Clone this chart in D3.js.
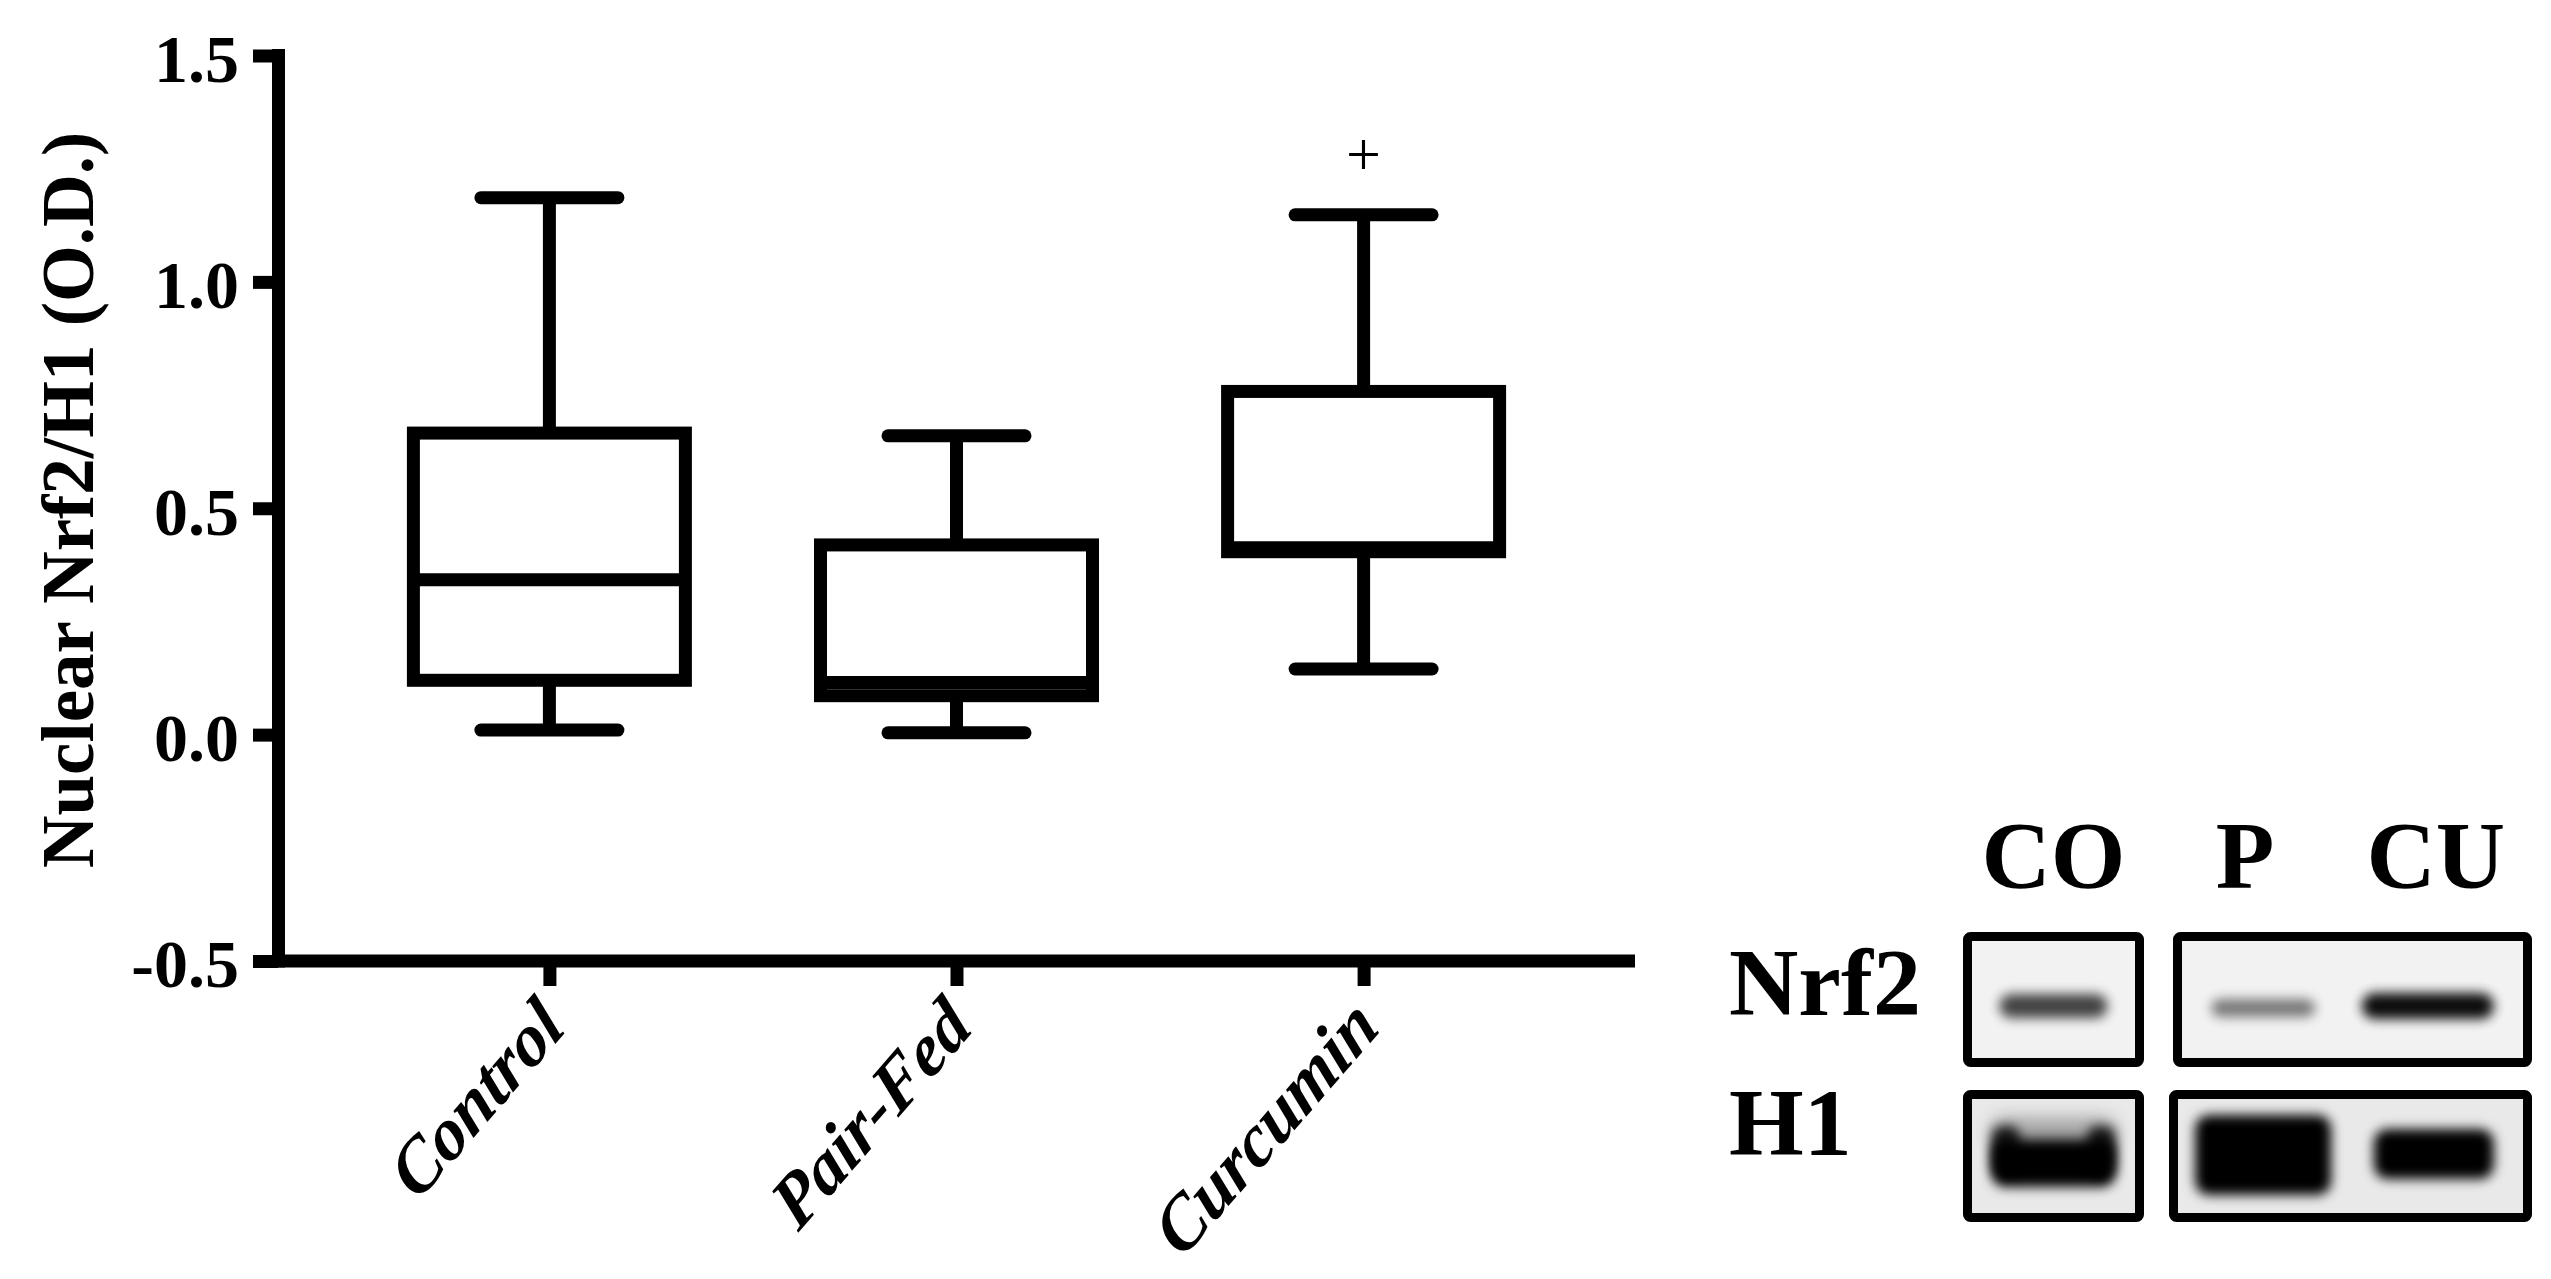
<!DOCTYPE html>
<html><head><meta charset="utf-8">
<script src="https://cdn.jsdelivr.net/npm/d3@7"></script>
<style>html,body{margin:0;padding:0;background:#fff;} svg{display:block;}</style>
</head><body>
<svg id="chart" width="2551" height="1279"></svg>
<script>
// ---------- data ----------
const categories  = ["Control", "Pair-Fed", "Curcumin"];
const whiskerLow  = [0.010, 0.004, 0.145];
const q1          = [0.120, 0.086, 0.404];
const median      = [0.342, 0.115, 0.413];
const q3          = [0.666, 0.419, 0.758];
const whiskerHigh = [1.186, 0.660, 1.148];
const significance = ["", "", "+"];
const yTicks = [-0.5, 0.0, 0.5, 1.0, 1.5];
const yLabel = "Nuclear Nrf2/H1 (O.D.)";

const lanes = ["CO", "P", "CU"];
const blotRows = ["Nrf2", "H1"];
const nrf2Density = [0.72, 0.50, 0.95];
const h1Density   = [1.00, 1.00, 1.00];

// ---------- setup ----------
const svg = d3.select("#chart");
const FONT = "'Liberation Serif','Times New Roman',serif";
const SW = 13;

const x = d3.scalePoint().domain(categories).range([278, 1635]).padding(2/3);
const y = d3.scaleLinear().domain([-0.5, 1.5]).range([961, 55.5]);

// ---------- axes ----------
const yAxis = d3.axisLeft(y).tickValues(yTicks)
  .tickFormat(d => d3.format(".1f")(d).replace("\u2212", "-"))
  .tickSize(25).tickSizeOuter(0).tickPadding(14);
const gy = svg.append("g").attr("transform", "translate(278,0)").call(yAxis)
  .attr("font-family", FONT).attr("font-size", 68).attr("font-weight", "bold");
gy.select(".domain").remove();
gy.selectAll(".tick line").attr("stroke", "#000").attr("stroke-width", SW);
gy.selectAll(".tick text").attr("fill", "#000").attr("dy", "0.38em");

const xAxis = d3.axisBottom(x).tickSize(25).tickSizeOuter(0).tickFormat("");
const gx = svg.append("g").attr("transform", `translate(0,${y(-0.5)})`).call(xAxis);
gx.select(".domain").remove();
gx.selectAll(".tick line").attr("stroke", "#000").attr("stroke-width", SW);

// axis lines
svg.append("line")
  .attr("x1", x.range()[0]).attr("x2", x.range()[1])
  .attr("y1", y(-0.5)).attr("y2", y(-0.5))
  .attr("stroke", "#000").attr("stroke-width", SW);
svg.append("line")
  .attr("x1", x.range()[0] + 0.5).attr("x2", x.range()[0] + 0.5)
  .attr("y1", y.range()[0]).attr("y2", y.range()[1])
  .attr("stroke", "#000").attr("stroke-width", SW).attr("stroke-linecap", "square");

// y label
svg.append("text")
  .attr("transform", "translate(93,500) rotate(-90)")
  .attr("text-anchor", "middle")
  .attr("font-family", FONT).attr("font-weight", "bold").attr("font-size", 73)
  .text(yLabel);

// category labels (slightly stretched vertically, as in the original figure)
svg.append("g").selectAll("text").data(categories).join("text")
  .attr("transform", d => `translate(${x(d) + 18},1030) scale(1,1.15) rotate(-45)`)
  .attr("text-anchor", "end")
  .attr("font-family", FONT).attr("font-weight", "bold").attr("font-style", "italic")
  .attr("font-size", 67)
  .text(d => d);

// ---------- box plots ----------
const boxW = 272, capW = 137;
const stats = categories.map((c, i) => ({
  c, lo: whiskerLow[i], q1: q1[i], med: median[i], q3: q3[i], hi: whiskerHigh[i], sig: significance[i]
}));
const gb = svg.append("g").attr("stroke", "#000").attr("stroke-width", SW).attr("fill", "none");
stats.forEach(d => {
  const cx = x(d.c);
  gb.append("line").attr("x1", cx).attr("x2", cx).attr("y1", y(d.hi)).attr("y2", y(d.q3));
  gb.append("line").attr("x1", cx).attr("x2", cx).attr("y1", y(d.q1)).attr("y2", y(d.lo));
  [d.hi, d.lo].forEach(v => {
    gb.append("line").attr("x1", cx - capW / 2).attr("x2", cx + capW / 2)
      .attr("y1", y(v)).attr("y2", y(v)).attr("stroke-linecap", "round");
  });
  gb.append("rect").attr("x", cx - boxW / 2).attr("width", boxW)
    .attr("y", y(d.q3)).attr("height", y(d.q1) - y(d.q3)).attr("fill", "#fff");
  gb.append("line").attr("x1", cx - boxW / 2).attr("x2", cx + boxW / 2)
    .attr("y1", y(d.med)).attr("y2", y(d.med));
  if (d.sig) {
    svg.append("text").attr("x", cx).attr("y", y(d.hi) - 40)
      .attr("text-anchor", "middle").attr("font-family", FONT).attr("font-size", 62)
      .text(d.sig);
  }
});

// ---------- western blot inset ----------
const defs = svg.append("defs");
defs.append("filter").attr("id", "blur").attr("x", "-50%").attr("y", "-100%").attr("width", "200%").attr("height", "300%")
  .append("feGaussianBlur").attr("stdDeviation", 6);
defs.append("filter").attr("id", "blur2").attr("x", "-50%").attr("y", "-100%").attr("width", "200%").attr("height", "300%")
  .append("feGaussianBlur").attr("stdDeviation", 9);

const col1 = [1967.5, 2139.5];
const col2 = [2177.5, 2527.5];
const rowY = { "Nrf2": [936.5, 1062.5], "H1": [1094.5, 1217.5] };
const laneX = d3.scaleBand().domain(["P", "CU"]).range(col2).paddingInner(0.1).paddingOuter(0.1);
const laneCenter = l => l === "CO" ? (col1[0] + col1[1]) / 2 : laneX(l) + laneX.bandwidth() / 2;
const labelShift = { CO: 0, P: -24, CU: 0 };

const gBlot = svg.append("g");
// backgrounds
blotRows.forEach(r => {
  const [y0, y1] = rowY[r];
  const bg = r === "Nrf2" ? "#f2f2f2" : "#e9e9e9";
  const c2 = r === "H1" ? [col2[0] - 4, col2[1]] : col2;
  [col1, c2].forEach(c => {
    gBlot.append("rect").attr("x", c[0]).attr("y", y0).attr("width", c[1] - c[0]).attr("height", y1 - y0)
      .attr("rx", 3).attr("fill", bg);
  });
});
// Nrf2 bands
const nrf2Shape = { CO: [108, 24, 0], P: [104, 18, 2], CU: [132, 26, 0] };
lanes.forEach((l, i) => {
  const [w, h, dy] = nrf2Shape[l];
  const cx = laneCenter(l) - (l === "CU" ? 8 : 0) - (l === "P" ? 6 : 0);
  gBlot.append("rect").attr("x", cx - w / 2).attr("y", 1006 - h / 2 + dy).attr("width", w).attr("height", h)
    .attr("rx", h / 2).attr("fill", "#000").attr("opacity", nrf2Density[i]).attr("filter", "url(#blur)");
});
// H1 bands
const h1Shape = { CO: [124, 48, 1163], P: [136, 80, 1155], CU: [120, 50, 1154] };
lanes.forEach((l, i) => {
  const [w, h, cy] = h1Shape[l];
  const cx = laneCenter(l) - (l === "CU" ? 2 : 0) - (l === "P" ? 6 : 0);
  gBlot.append("rect").attr("x", cx - w / 2).attr("y", cy - h / 2).attr("width", w).attr("height", h)
    .attr("rx", 14).attr("fill", "#000").attr("opacity", h1Density[i]).attr("filter", "url(#blur)");
  if (l === "CO") {
    gBlot.append("rect").attr("x", cx - w / 2).attr("y", 1118).attr("width", w).attr("height", 30)
      .attr("rx", 12).attr("fill", "#000").attr("opacity", 0.3).attr("filter", "url(#blur2)");
    [-1, 1].forEach(s => {
      gBlot.append("rect").attr("x", cx + s * (w / 2 - 14) - 14).attr("y", 1126).attr("width", 28).attr("height", 50)
        .attr("rx", 10).attr("fill", "#000").attr("opacity", 0.85).attr("filter", "url(#blur)");
    });
  }
});
// frames
blotRows.forEach(r => {
  const [y0, y1] = rowY[r];
  const c2 = r === "H1" ? [col2[0] - 4, col2[1]] : col2;
  [col1, c2].forEach(c => {
    gBlot.append("rect").attr("x", c[0]).attr("y", y0).attr("width", c[1] - c[0]).attr("height", y1 - y0)
      .attr("rx", 3).attr("fill", "none").attr("stroke", "#000").attr("stroke-width", 9);
  });
});
// lane labels
gBlot.selectAll("text.lane").data(lanes).join("text").attr("class", "lane")
  .attr("x", d => laneCenter(d) + labelShift[d]).attr("y", 888)
  .attr("text-anchor", "middle").attr("font-family", FONT).attr("font-weight", "bold").attr("font-size", 96)
  .text(d => d);
// row labels
const rowBase = { "Nrf2": 1015, "H1": 1155 };
gBlot.selectAll("text.row").data(blotRows).join("text").attr("class", "row")
  .attr("x", 1729).attr("y", d => rowBase[d])
  .attr("font-family", FONT).attr("font-weight", "bold").attr("font-size", 96)
  .text(d => d);
</script>
</body></html>
